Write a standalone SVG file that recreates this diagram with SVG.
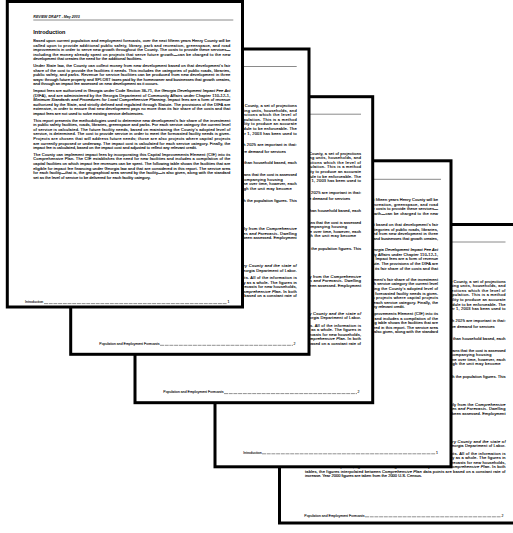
<svg xmlns="http://www.w3.org/2000/svg" width="513" height="533" viewBox="0 0 513 533">
<style>
.page{fill:#fff;stroke:#000;stroke-width:3}
.t{font-family:"Liberation Sans",Arial,sans-serif;font-size:4px;fill:#000;stroke:#000;stroke-width:0.12}
.hd{font-family:"Liberation Sans",Arial,sans-serif;font-size:3.6px;font-weight:bold;font-style:italic;fill:#111}
.h1{font-family:"Liberation Sans",Arial,sans-serif;font-size:5.5px;font-weight:bold;fill:#000}
.rule{stroke:#8a8a8a;stroke-width:1}
.ft{font-family:"Liberation Sans",Arial,sans-serif;font-size:3.5px;fill:#000;stroke:#000;stroke-width:0.08}
.lead{stroke:#222;stroke-width:0.5;stroke-dasharray:4 0.7}
.i{font-style:italic}
</style>
<defs>
<g id="intro">
<text class="hd" x="26" y="16.5">REVIEW DRAFT - May 2003</text>
<line class="rule" x1="26" y1="18.5" x2="226" y2="18.5"/>
<text class="h1" x="26" y="32.5">Introduction</text>
<g class="t">
<text x="26" y="40.5" textLength="197" lengthAdjust="spacing">Based upon current population and employment forecasts, over the next fifteen years Henry County will be</text>
<text x="26" y="45.1" textLength="197" lengthAdjust="spacing">called upon to provide additional public safety, library, park and recreation, greenspace, and road</text>
<text x="26" y="49.7" textLength="197" lengthAdjust="spacing">improvements in order to serve new growth throughout the County. The costs to provide these services—</text>
<text x="26" y="54.3" textLength="197" lengthAdjust="spacing">including the money already spent on projects that serve future growth—can be charged to the new</text>
<text x="26" y="58.9">development that creates the need for the additional facilities.</text>
<text x="26" y="65.5" textLength="197" lengthAdjust="spacing">Under State law, the County can collect money from new development based on that development's fair</text>
<text x="26" y="70.1" textLength="197" lengthAdjust="spacing">share of the cost to provide the facilities it needs. This includes the categories of public roads, libraries,</text>
<text x="26" y="74.7" textLength="197" lengthAdjust="spacing">public safety, and parks. Revenue for service facilities can be produced from new development in three</text>
<text x="26" y="79.3" textLength="197" lengthAdjust="spacing">ways: through future property and SPLOST taxes paid by the homeowner and businesses that growth creates,</text>
<text x="26" y="83.9">and through an impact fee assessed on new development as it occurs.</text>
<text x="26" y="90.5" textLength="197" lengthAdjust="spacing">Impact fees are authorized in Georgia under Code Section 36-71, the <tspan class="i">Georgia Development Impact Fee Act</tspan></text>
<text x="26" y="95.1" textLength="197" lengthAdjust="spacing">(DIFA), and are administered by the Georgia Department of Community Affairs under Chapter 110-12-1,</text>
<text x="26" y="99.7" textLength="197" lengthAdjust="spacing"><tspan class="i">Minimum Standards and Procedures for Local Comprehensive Planning</tspan>. Impact fees are a form of revenue</text>
<text x="26" y="104.3" textLength="197" lengthAdjust="spacing">authorized by the State, and strictly defined and regulated through Statute. The provisions of the DIFA are</text>
<text x="26" y="108.9" textLength="197" lengthAdjust="spacing">extensive, in order to ensure that new development pays no more than its fair share of the costs and that</text>
<text x="26" y="113.5">impact fees are not used to solve existing service deficiencies.</text>
<text x="26" y="120.1" textLength="197" lengthAdjust="spacing">This report presents the methodologies used to determine new development's fair share of the investment</text>
<text x="26" y="124.7" textLength="197" lengthAdjust="spacing">in public safety facilities, roads, libraries, greenspace and parks. For each service category the current level</text>
<text x="26" y="129.3" textLength="197" lengthAdjust="spacing">of service is calculated. The future facility needs, based on maintaining the County's adopted level of</text>
<text x="26" y="133.9" textLength="197" lengthAdjust="spacing">service, is determined. The cost to provide service in order to meet the forecasted facility needs is given.</text>
<text x="26" y="138.5" textLength="197" lengthAdjust="spacing">Projects are chosen that will address future needs; those are also projects where capital projects</text>
<text x="26" y="143.1" textLength="197" lengthAdjust="spacing">are currently proposed or underway. The impact cost is calculated for each service category. Finally, the</text>
<text x="26" y="147.7">impact fee is calculated, based on the impact cost and adjusted to reflect any relevant credit.</text>
<text x="26" y="154.3" textLength="197" lengthAdjust="spacing">The County can implement impact fees by incorporating this Capital Improvements Element (CIE) into its</text>
<text x="26" y="158.9" textLength="197" lengthAdjust="spacing">Comprehensive Plan. The CIE establishes the need for new facilities and includes a compilation of the</text>
<text x="26" y="163.5" textLength="197" lengthAdjust="spacing">capital facilities on which impact fee revenues can be spent. The following table shows the facilities that are</text>
<text x="26" y="168.1" textLength="197" lengthAdjust="spacing">eligible for impact fee financing under Georgia law and that are considered in this report. The service area</text>
<text x="26" y="172.7" textLength="197" lengthAdjust="spacing">for each facility—that is, the geographical area served by the facility—is also given, along with the standard</text>
<text x="26" y="177.3">set as the level of service to be delivered for each facility category.</text>
</g>
</g>
<g id="pop">
<text class="hd" x="26" y="15.5">REVIEW DRAFT - May 2003</text>
<line class="rule" x1="26" y1="17.5" x2="226" y2="17.5"/>
<g class="t">
<text x="25.5" y="58" textLength="200.5" lengthAdjust="spacing">To calculate future demand for services and facilities in unincorporated Henry County, a set of projections</text>
<text x="25.5" y="62.6" textLength="200.5" lengthAdjust="spacing">was prepared for population, employment and the related figures for housing units, households, and</text>
<text x="25.5" y="67.2" textLength="200.5" lengthAdjust="spacing">dwelling units. These forecasts provide the base for the service projections which the level of</text>
<text x="25.5" y="71.8" textLength="200.5" lengthAdjust="spacing">service will be measured against as the County continues to grow in population. This is a method</text>
<text x="25.5" y="76.4" textLength="200.5" lengthAdjust="spacing">to ensure new growth pays its fair share; the fee relies on the County's ability to produce an accurate</text>
<text x="25.5" y="81" textLength="200.5" lengthAdjust="spacing">estimate of growth, which is essential for the impact fee ordinance and schedule to be enforceable. The</text>
<text x="25.5" y="85.6" textLength="200.5" lengthAdjust="spacing">forecast of population and employment adopted by the County on September 1, 2003 has been used to</text>
<text x="25.5" y="97" textLength="200.5" lengthAdjust="spacing">Forecasts of population, housing units, and employment for the County through 2025 are important in that:</text>
<text x="29" y="103.8">•</text>
<text x="34" y="103.8" textLength="181" lengthAdjust="spacing">Population forecasts are used to determine the level of service and the future demand for services</text>
<text x="29" y="115.2">•</text>
<text x="34" y="115.2" textLength="192" lengthAdjust="spacing">Since impact fees for residential development are assessed per unit rather than household based, each</text>
<text x="29" y="127">•</text>
<text x="34" y="127" textLength="192" lengthAdjust="spacing">Residential impact fees are calculated on a per dwelling unit basis, which means that the cost is assessed</text>
<text x="34" y="131.6" textLength="178" lengthAdjust="spacing">to each new dwelling unit; population forecasts are converted into accompanying housing</text>
<text x="34" y="136.2" textLength="192" lengthAdjust="spacing">unit forecasts. The number of persons per household is expected to decline over time, however, each</text>
<text x="34" y="140.8" textLength="187" lengthAdjust="spacing">dwelling unit will continue to generate demand for services even though the unit may become</text>
<text x="29" y="153">•</text>
<text x="34" y="153" textLength="192" lengthAdjust="spacing">Employment forecasts determine non-residential demand, in conjunction with the population figures. This</text>
<text x="25.5" y="181" textLength="200.5" lengthAdjust="spacing">The population and housing forecasts in the following table are taken directly from the <tspan class="i">Comprehensive</tspan></text>
<text x="25.5" y="185.6" textLength="200.5" lengthAdjust="spacing"><tspan class="i">Plan</tspan>, in the section of the Technical Appendix entitled <tspan class="i">Population Projections and Forecasts</tspan>. Dwelling</text>
<text x="25.5" y="190.2" textLength="200.5" lengthAdjust="spacing">units are derived from households, as it is on dwelling units that the fees have been assessed. Employment</text>
<text x="25.5" y="218" textLength="200.5" lengthAdjust="spacing">Employment forecasts are based on historic employment trends for <tspan class="i">Henry County and the state of</tspan></text>
<text x="25.5" y="222.5" textLength="200.5" lengthAdjust="spacing"><tspan class="i">Georgia</tspan>, as reported in the Covered Employment and Wages series of the Georgia Department of Labor.</text>
<text x="25.5" y="230" textLength="200.5" lengthAdjust="spacing">Figures are shown annually from 2000 to 2005, then in five year increments. All of the information is</text>
<text x="25.5" y="234.5" textLength="200.5" lengthAdjust="spacing">presented for the unincorporated area of the County as well as for the county as a whole. The figures in</text>
<text x="25.5" y="239" textLength="200.5" lengthAdjust="spacing">bold are taken directly from the <tspan class="i">Comprehensive Plan</tspan>. In the table showing forecasts for new households,</text>
<text x="25.5" y="243.5" textLength="200.5" lengthAdjust="spacing">for the same time period, figures in bold are again taken directly from the <tspan class="i">Comprehensive Plan</tspan>. In both</text>
<text x="25.5" y="248" textLength="200.5" lengthAdjust="spacing">tables, the figures interpolated between <tspan class="i">Comprehensive Plan</tspan> data points are based on a constant rate of</text>
<text x="25.5" y="252.5">increase. Year 2000 figures are taken from the 2000 U.S. Census.</text>
</g>
</g>
</defs>
<rect width="513" height="533" fill="#fff"/>
<g id="page-5">
<rect class="page" x="279.5" y="224.5" width="240" height="298.5"/>
<use href="#pop" x="279.5" y="224.5"/>
<text class="ft" x="304.3" y="516.5">Population and Employment Forecasts</text>
<line class="lead" x1="365" y1="516.8" x2="501" y2="516.8"/>
<text class="ft" x="501.5" y="516.5">2</text>
</g>
<g id="page-4">
<rect class="page" x="215" y="160.8" width="236" height="306"/>
<use href="#intro" x="215" y="160.8"/>
<text class="ft" x="243.3" y="453.5">Introduction</text>
<line class="lead" x1="262" y1="453.8" x2="435.5" y2="453.8"/>
<text class="ft" x="436" y="453.5">1</text>
</g>
<g id="page-3">
<rect class="page" x="135" y="96.7" width="237.7" height="306"/>
<use href="#pop" x="135" y="96.7"/>
<text class="ft" x="163.3" y="393.3">Population and Employment Forecasts</text>
<line class="lead" x1="224" y1="393.6" x2="357" y2="393.6"/>
<text class="ft" x="357.5" y="393.3">2</text>
</g>
<g id="page-2">
<rect class="page" x="70.7" y="49" width="238.3" height="305.3"/>
<use href="#pop" x="70.7" y="49"/>
<text class="ft" x="99.3" y="345">Population and Employment Forecasts</text>
<line class="lead" x1="160" y1="345.3" x2="293" y2="345.3"/>
<text class="ft" x="293.5" y="345">2</text>
</g>
<g id="page-1">
<rect class="page" x="7.3" y="1.5" width="235.2" height="305.5"/>
<use href="#intro" x="7.3" y="1.5"/>
<text class="ft" x="25" y="303.3">Introduction</text>
<line class="lead" x1="44" y1="303.6" x2="227" y2="303.6"/>
<text class="ft" x="227.5" y="303.3">1</text>
</g>
</svg>
